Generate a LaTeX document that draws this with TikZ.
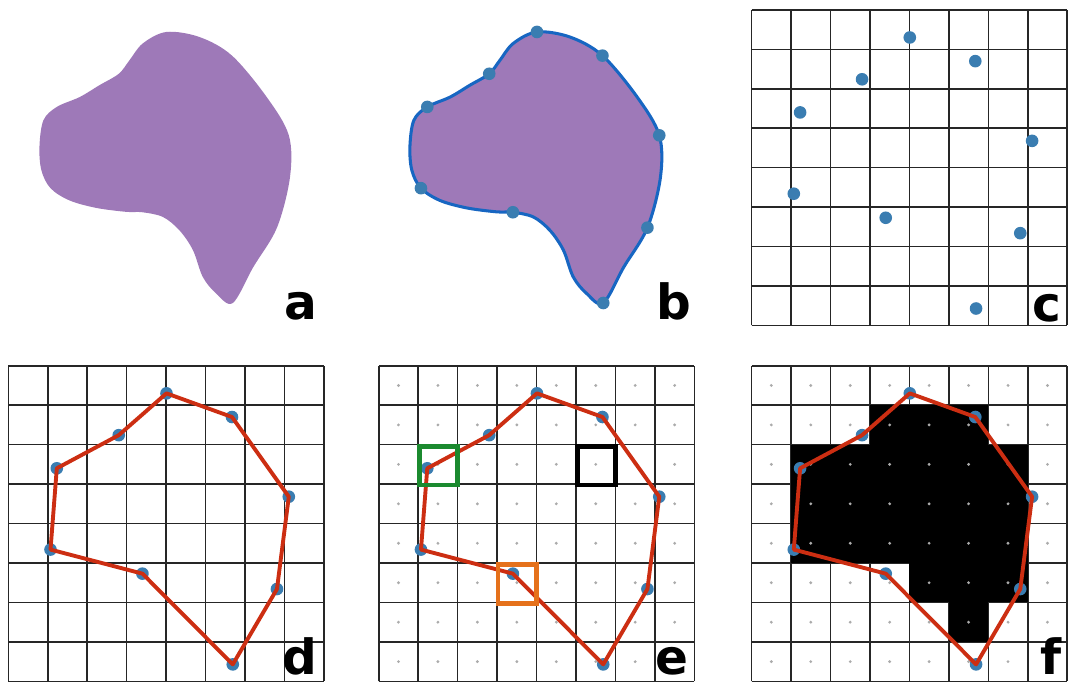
\documentclass[tikz,border=0pt]{standalone}
\usepackage{fontspec}
\newfontfamily\lblfont{DejaVu Sans}
\usetikzlibrary{calc}

\definecolor{blobpurple}{HTML}{9E79B8}
\definecolor{edgeblue}{HTML}{1766C2}
\definecolor{ptblue}{HTML}{3A7DB1}
\definecolor{polyred}{HTML}{CC2E12}
\definecolor{boxgreen}{HTML}{1B8A2F}
\definecolor{boxorange}{HTML}{E5711B}

\begin{document}
\begin{tikzpicture}[
    gridline/.style={line width=1.1pt, black!85},
    ptdot/.style={fill=ptblue},
    polyline/.style={polyred, line width=2.8pt, line join=round},
    cdot/.style={fill=black!33},
    lbl/.style={anchor=base east, inner sep=0pt, font={\lblfont\bfseries\fontsize{35}{42}\selectfont}},
    probe/.style={line width=3.4pt}
]
        % 画布大小（一个格子 = 1cm）
        \useasboundingbox (0,0) rectangle (27.07,17.29);
        % 采样点，按多边形顺序
        \def\pts{1/4.01/7.30, 2/5.67/6.70, 3/7.11/4.68, 4/6.81/2.34, 5/5.69/0.43, 6/3.40/2.73, 7/1.07/3.34, 8/1.23/5.40, 9/2.80/6.24}
        % 形状轮廓
        \def\blobpath{plot[smooth cycle, tension=0.55] coordinates {(4.01,7.30) (4.85,7.17) (5.67,6.70) (6.55,5.65) (7.11,4.68) (7.14,3.62) (6.81,2.34) (6.21,1.34) (5.69,0.43) (5.27,0.67) (4.93,1.09) (4.68,1.77) (4.34,2.27) (3.92,2.61) (3.40,2.73) (2.99,2.74) (2.23,2.84) (1.55,3.03) (1.07,3.34) (0.84,3.79) (0.79,4.39) (0.89,5.06) (1.23,5.40) (1.81,5.65) (2.31,5.95) (2.80,6.24) (3.07,6.58) (3.41,7.01)}}
        % a：只有形状
        \begin{scope}[shift={(0.21,9.18)}]
            \fill[blobpurple] \blobpath;
            \node[lbl] (la) at (7.84,0) {a};
        \end{scope}
        % b：形状、轮廓和采样点
        \begin{scope}[shift={(9.60,9.18)}]
            \draw[edgeblue, line width=2.2pt, fill=blobpurple] \blobpath;
            \foreach \n/\x/\y in \pts {
                \coordinate (b\n) at (\x,\y);
                \fill[ptdot] (b\n) circle (0.16);
            }
            \node[lbl] (lb) at (7.92,0) {b};
        \end{scope}
        % c：网格上的采样点
        \begin{scope}[shift={(19.05,9.04)}]
            \draw[gridline] (0,0) grid (8,8);
            \foreach \n/\x/\y in \pts {
                \coordinate (c\n) at (\x,\y);
                \fill[ptdot] (c\n) circle (0.16);
            }
            \node[lbl] (lc) at (7.86,0.1) {c};
        \end{scope}
        % d：连接成多边形
        \begin{scope}[shift={(0.21,0.02)}]
            \draw[gridline] (0,0) grid (8,8);
            \foreach \n/\x/\y in \pts {
                \coordinate (d\n) at (\x,\y);
                \fill[ptdot] (d\n) circle (0.16);
            }
            \draw[polyline] (d1) \foreach \i in {2,...,9} {-- (d\i)} -- cycle;
            \node[lbl] (ld) at (7.84,0.17) {d};
        \end{scope}
        % e：格子中心和三个测试格
        \begin{scope}[shift={(9.60,0.02)}]
            \draw[gridline] (0,0) grid (8,8);
            \foreach \i in {0,...,7}
                \foreach \j in {0,...,7}
                    \fill[cdot] (\i+0.5,\j+0.5) circle (0.04);
            \foreach \n/\x/\y in \pts {
                \coordinate (e\n) at (\x,\y);
                \fill[ptdot] (e\n) circle (0.16);
            }
            \draw[polyline] (e1) \foreach \i in {2,...,9} {-- (e\i)} -- cycle;
            \draw[probe, boxgreen] (1.04,4.98) rectangle (2,5.96);
            \draw[probe, black] (5.04,4.98) rectangle (6,5.96);
            \draw[probe, boxorange] (3.02,1.98) rectangle (4,2.96);
            \node[lbl] (le) at (7.86,0.17) {e};
        \end{scope}
        % f：落在多边形内的格子涂黑
        \begin{scope}[shift={(19.05,0.02)}]
            \draw[gridline] (0,0) grid (8,8);
            \fill (3,6) rectangle (6,7);
            \fill (1,3) rectangle (7,6);
            \fill (4,2) rectangle (7,3);
            \fill (5,1) rectangle (6,2);
            \foreach \i in {0,...,7}
                \foreach \j in {0,...,7}
                    \fill[cdot] (\i+0.5,\j+0.5) circle (0.04);
            \foreach \n/\x/\y in \pts {
                \coordinate (f\n) at (\x,\y);
                \fill[ptdot] (f\n) circle (0.16);
            }
            \draw[polyline] (f1) \foreach \i in {2,...,9} {-- (f\i)} -- cycle;
            \node[lbl] (lf) at (7.86,0.17) {f};
        \end{scope}
\end{tikzpicture}
\end{document}
